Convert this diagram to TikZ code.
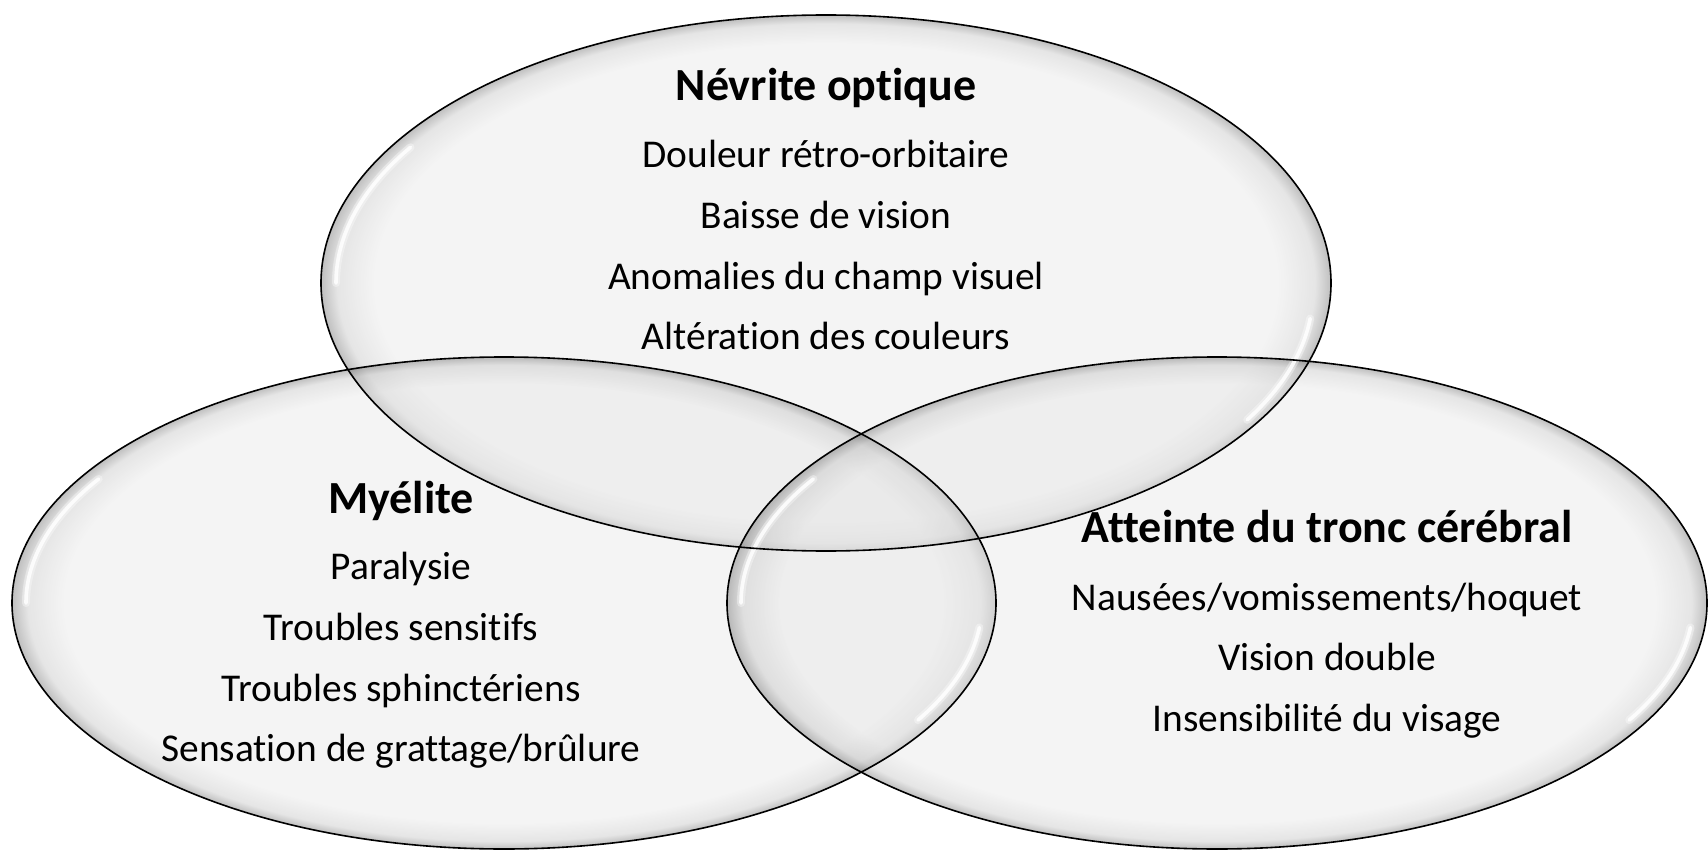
\documentclass[tikz,border=0pt]{standalone}
\usepackage{fontspec}
\setmainfont{Carlito}[Ligatures=NoCommon]
\definecolor{rimin}{gray}{0.90}
\definecolor{rimmid}{gray}{0.76}
\definecolor{rimout}{gray}{0.40}
% glossy rim: flat inside, darkening towards the outline
\pgfdeclareradialshading{rim}{\pgfpoint{0bp}{0bp}}{%
  color(0bp)=(rimin); color(22.3bp)=(rimin); color(24.2bp)=(rimmid);
  color(25bp)=(rimout); color(50bp)=(rimout)}
\begin{document}
\begin{tikzpicture}[x=0.5pt,y=-0.5pt,
  bubble/.style={shading=rim, fill opacity=0.42},
  rimline/.style={draw=black, line width=0.8pt},
  glosswide/.style={draw=white, line width=4pt, line cap=round, opacity=0.35},
  gloss/.style={draw=white, line width=1.8pt, line cap=round, opacity=0.85},
  head/.style={font=\fontsize{23}{27}\selectfont\bfseries, text height=0.72em, text depth=0.22em, inner sep=0pt},
  item/.style={font=\fontsize{19.7}{24}\selectfont, text height=0.72em, text depth=0.22em, inner sep=0pt}]
\useasboundingbox (0,0) rectangle (1708,850);

% fills
\path[bubble] (826,283) ellipse [x radius=505, y radius=268];
\path[bubble] (504,603) ellipse [x radius=492, y radius=246];
\path[bubble] (1217,603) ellipse [x radius=490, y radius=246];

% highlights (soft halo plus bright core)
\foreach \s in {glosswide,gloss}{
  \draw[\s] (336,283) arc[start angle=180, end angle=212, x radius=490, y radius=256];
  \draw[\s] (1310.2,318.6) arc[start angle=6, end angle=30, x radius=490, y radius=256];
  \draw[\s] (26,603) arc[start angle=180, end angle=212, x radius=478, y radius=234];
  \draw[\s] (979.4,627.5) arc[start angle=6, end angle=30, x radius=478, y radius=234];
  \draw[\s] (741,603) arc[start angle=180, end angle=212, x radius=476, y radius=234];
  \draw[\s] (1690.4,627.5) arc[start angle=6, end angle=30, x radius=476, y radius=234];
}

% outlines
\draw[rimline] (826,283) ellipse [x radius=505, y radius=268];
\draw[rimline] (504,603) ellipse [x radius=492, y radius=246];
\draw[rimline] (1217,603) ellipse [x radius=490, y radius=246];

% optic neuritis
\node[head] (t0) at (826,96) {Névrite optique};
\node[item] (t1) at (826,163) {Douleur rétro-orbitaire};
\node[item] (t2) at (826,224) {Baisse de vision};
\node[item] (t3) at (826,285) {Anomalies du champ visuel};
\node[item] (t4) at (826,345) {Altération des couleurs};

% myelitis
\node[head] (l0) at (401,508) {Myélite};
\node[item] (l1) at (401,574) {Paralysie};
\node[item] (l2) at (401,635) {Troubles sensitifs};
\node[item] (l3) at (401,696) {Troubles sphinctériens};
\node[item] (l4) at (401,756) {Sensation de grattage/brûlure};

% brainstem
\node[head] (r0) at (1327,537) {Atteinte du tronc cérébral};
\node[item] (r1) at (1327,605) {Nausées/vomissements/hoquet};
\node[item] (r2) at (1327,665) {Vision double};
\node[item] (r3) at (1327,726) {Insensibilité du visage};
\end{tikzpicture}
\end{document}
